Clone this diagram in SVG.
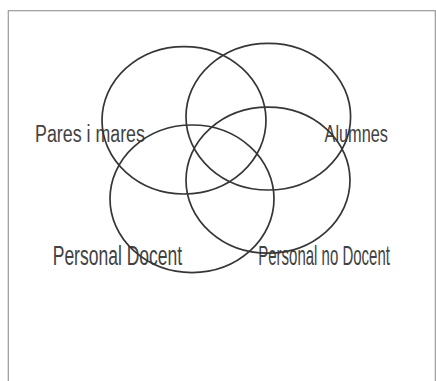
<svg xmlns="http://www.w3.org/2000/svg" width="436" height="381" viewBox="0 0 436 381">
  <style>
    .set { fill: none; stroke: #363636; stroke-width: 1.7; }
    .lbl { font-family: "Liberation Sans", Arial, sans-serif; fill: #424242; }
    .top { font-size: 23px; }
    .bot { font-size: 27px; }
    .frame { fill: none; stroke: #9a9a9a; stroke-width: 1.2; }
  </style>
  <rect width="436" height="381" fill="#ffffff"/>
  <rect class="frame" x="8.3" y="10.7" width="427" height="380"/>
  <g id="pares-i-mares">
    <text class="lbl top" transform="translate(35,141.5) scale(0.775,1)">Pares i mares</text>
    <ellipse class="set" cx="184" cy="120.3" rx="82" ry="73.7"/>
  </g>
  <g id="alumnes">
    <text class="lbl top" transform="translate(324.5,141.5) scale(0.71,1)">Alumnes</text>
    <ellipse class="set" cx="268.3" cy="116.7" rx="82.3" ry="73.3"/>
  </g>
  <g id="personal-docent">
    <text class="lbl bot" transform="translate(52.7,265) scale(0.649,1)">Personal Docent</text>
    <ellipse class="set" cx="192" cy="198.8" rx="82" ry="73.8"/>
  </g>
  <g id="personal-no-docent">
    <text class="lbl bot" transform="translate(258.3,264.5) scale(0.555,1)">Personal no Docent</text>
    <ellipse class="set" cx="268" cy="180.2" rx="82" ry="73"/>
  </g>
</svg>
